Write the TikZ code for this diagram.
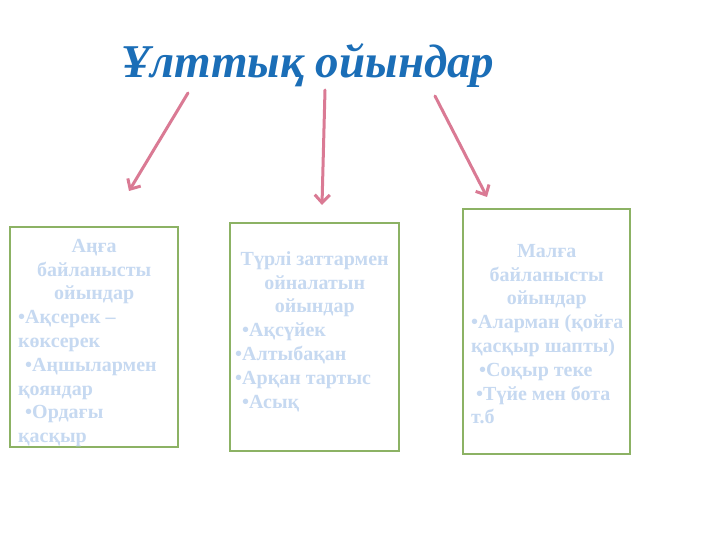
\documentclass[tikz,border=0pt]{standalone}
\usepackage{fontspec}
\setmainfont{Liberation Serif}
\usetikzlibrary{arrows.meta}
\definecolor{titleblue}{RGB}{27,110,183}
\definecolor{paleblue}{RGB}{198,217,241}
\definecolor{arrowpink}{RGB}{218,122,148}
\definecolor{boxgreen}{RGB}{140,178,100}
\tikzset{
  catbox/.style={draw=boxgreen, line width=1.3pt},
  cattext/.style={anchor=north west, inner sep=0pt, align=left, text=paleblue,
    font=\bfseries\fontsize{20}{23.8}\selectfont},
  pinkarrow/.style={draw=arrowpink, line width=3pt, line cap=round,
    -{Straight Barb[length=8pt,width=15pt,line width=3pt]}}
}
\begin{document}
\begin{tikzpicture}[x=1pt,y=-1pt]
\useasboundingbox[fill=white] (0,0) rectangle (720,540);
\node[text=titleblue, font=\bfseries\itshape\fontsize{47}{56}\selectfont, anchor=base] (title) at (308,78) {Ұлттық ойындар};
% boxes
\draw[catbox] (10,227) rectangle (178,447);
\draw[catbox] (230,223) rectangle (399,451);
\draw[catbox] (463,209) rectangle (630,454);
\node[cattext] (t1) at (18,235.5) {\strut\makebox[152pt]{Аңға}\\\makebox[152pt]{байланысты}\\\makebox[152pt]{ойындар}\\
•Ақсерек –\\көксерек\\\hspace*{7pt}•Аңшылармен\\қояндар\\\hspace*{7pt}•Ордағы\\қасқыр};
\node[cattext] (t2) at (235,248.5) {\strut\makebox[159pt]{Түрлі заттармен}\\\makebox[159pt]{ойналатын}\\\makebox[159pt]{ойындар}\\
\hspace*{7pt}•Ақсүйек\\•Алтыбақан\\•Арқан тартыс\\\hspace*{7pt}•Асық};
\node[cattext] (t3) at (471,240.5) {\strut\makebox[151pt]{Малға}\\\makebox[151pt]{байланысты}\\\makebox[151pt]{ойындар}\\
•Аларман (қойға\\қасқыр шапты)\\\hspace*{8pt}•Соқыр теке\\\hspace*{5pt}•Түйе мен бота\\т.б};
% arrows
\coordinate (a1s) at (188,93); \coordinate (a1e) at (129,191);
\coordinate (a2s) at (325,90); \coordinate (a2e) at (322,205);
\coordinate (a3s) at (435,96); \coordinate (a3e) at (487,197);
\draw[pinkarrow] (a1s) -- (a1e);
\draw[pinkarrow] (a2s) -- (a2e);
\draw[pinkarrow] (a3s) -- (a3e);
\end{tikzpicture}
\end{document}
